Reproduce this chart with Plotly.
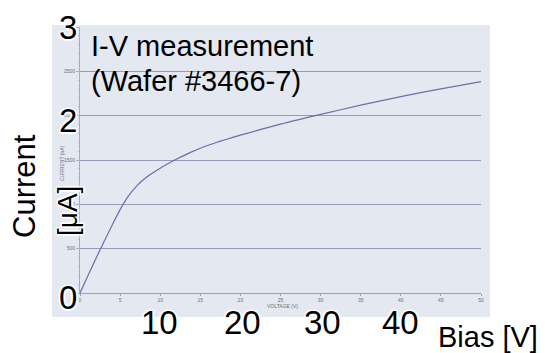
import plotly.graph_objects as go

# ---- data ----
bias_v = [0, 1, 2, 3, 4, 5, 6, 7, 8, 9, 10, 11, 12, 13, 14, 15, 16, 17, 18, 20,
          25, 30, 35, 40, 45, 50]
current_na = [0, 196, 392, 580, 764, 940, 1090, 1200, 1285, 1350, 1408, 1460, 1508,
              1552, 1594, 1632, 1666, 1697, 1726, 1780, 1905, 2015, 2118, 2215, 2302, 2385]

x_ticks = [0, 5, 10, 15, 20, 25, 30, 35, 40, 45, 50]
y_ticks = [0, 500, 1000, 1500, 2000, 2500, 3000]
big_y_labels = ["0", "2", "3"]
big_x_labels = ["10", "20", "30", "40"]
title_lines = ["I-V measurement", "(Wafer #3466-7)"]

W, H = 545, 353
L, R, T, B = 80, 481, 27, 293  # plot area in pixels


def px(xp):
    return (xp - L) / (R - L)


def py(yp):
    return (B - yp) / (B - T)


fig = go.Figure()
fig.add_trace(go.Scatter(
    x=bias_v, y=current_na, mode="lines",
    line=dict(color="#6c6fa8", width=1.2, shape="spline", smoothing=0.6),
    hoverinfo="skip", showlegend=False))

# scanned-paper background panel
fig.add_shape(type="rect", xref="paper", yref="paper",
              x0=px(52), x1=px(490), y0=py(317), y1=py(25),
              fillcolor="#e3e8f1", line=dict(width=0), layer="below")

FAM = "Liberation Sans, Arial, sans-serif"
small = dict(family=FAM, size=5, color="#6a6f80")
big_shadow = ("1.5px 0px 0px white, -1.5px 0px 0px white, 0px 1.5px 0px white, "
              "0px -1.5px 0px white, 1px 1px 1px white, -1px -1px 1px white, "
              "1px -1px 1px white, -1px 1px 1px white, 0px 0px 4px white")
bigfont = dict(family=FAM, size=33, color="black", shadow=big_shadow)

ann = []
# original tiny axis titles
ann.append(dict(x=px(57), y=py(163), xref="paper", yref="paper", text="CURRENT (nA)",
                textangle=-90, showarrow=False, font=small))
ann.append(dict(x=px(282), y=py(311), xref="paper", yref="paper", text="VOLTAGE (V)",
                showarrow=False, font=small))
# title lines
for i, t in enumerate(title_lines):
    ann.append(dict(x=px(89), y=py(46 + 35 * i), xref="paper", yref="paper", text=t,
                    xanchor="left", yanchor="middle", showarrow=False,
                    font=dict(family=FAM, size=29, color="black")))
# big y labels
big_y_pix = [297, 120, 27]
for lab, yp in zip(big_y_labels, big_y_pix):
    ann.append(dict(x=px(68), y=py(yp), xref="paper", yref="paper", text=lab,
                    xanchor="center", yanchor="middle", showarrow=False, font=bigfont))
# big x labels
big_x_pix = [159, 242, 322, 400]
for lab, xp in zip(big_x_labels, big_x_pix):
    ann.append(dict(x=px(xp), y=py(322), xref="paper", yref="paper", text=lab,
                    xanchor="center", yanchor="middle", showarrow=False, font=bigfont))
ann.append(dict(x=px(488), y=py(337), xref="paper", yref="paper", text="Bias [V]",
                xanchor="center", yanchor="middle", showarrow=False,
                font=dict(bigfont, size=29)))
ann.append(dict(x=px(24), y=py(186), xref="paper", yref="paper", text="Current",
                textangle=-90, xanchor="center", yanchor="middle", showarrow=False,
                font=dict(bigfont, size=31)))
ann.append(dict(x=px(67), y=py(211), xref="paper", yref="paper", text="[μA]",
                textangle=-90, xanchor="center", yanchor="middle", showarrow=False,
                font=dict(bigfont, size=28)))

fig.update_layout(
    width=W, height=H,
    margin=dict(l=L, r=W - R, t=T, b=H - B, pad=0),
    paper_bgcolor="white", plot_bgcolor="rgba(0,0,0,0)",
    annotations=ann,
    xaxis=dict(range=[0, 50], tickvals=x_ticks, ticktext=[str(v) for v in x_ticks],
               showgrid=False, zeroline=False, showline=True, linecolor="#9aa1b8",
               linewidth=1, ticks="outside", ticklen=2, tickcolor="#9aa1b8",
               tickfont=small, fixedrange=True),
    yaxis=dict(range=[0, 3000], tickvals=y_ticks, ticktext=[str(v) for v in y_ticks],
               showgrid=True, gridcolor="#939cb8", gridwidth=1,
               zeroline=False, showline=True, linecolor="#a6adc2", linewidth=1,
               ticks="outside", ticklen=3, tickcolor="#a6adc2", tickfont=small,
               minor=dict(dtick=100, ticks="outside", ticklen=1.5, tickcolor="#b5bbcc",
                          showgrid=False),
               fixedrange=True),
)

fig.write_html("out.html", config={"displayModeBar": False, "responsive": False},
               post_script="document.body.style.margin='0';"
                           "document.documentElement.style.overflow='hidden';")
